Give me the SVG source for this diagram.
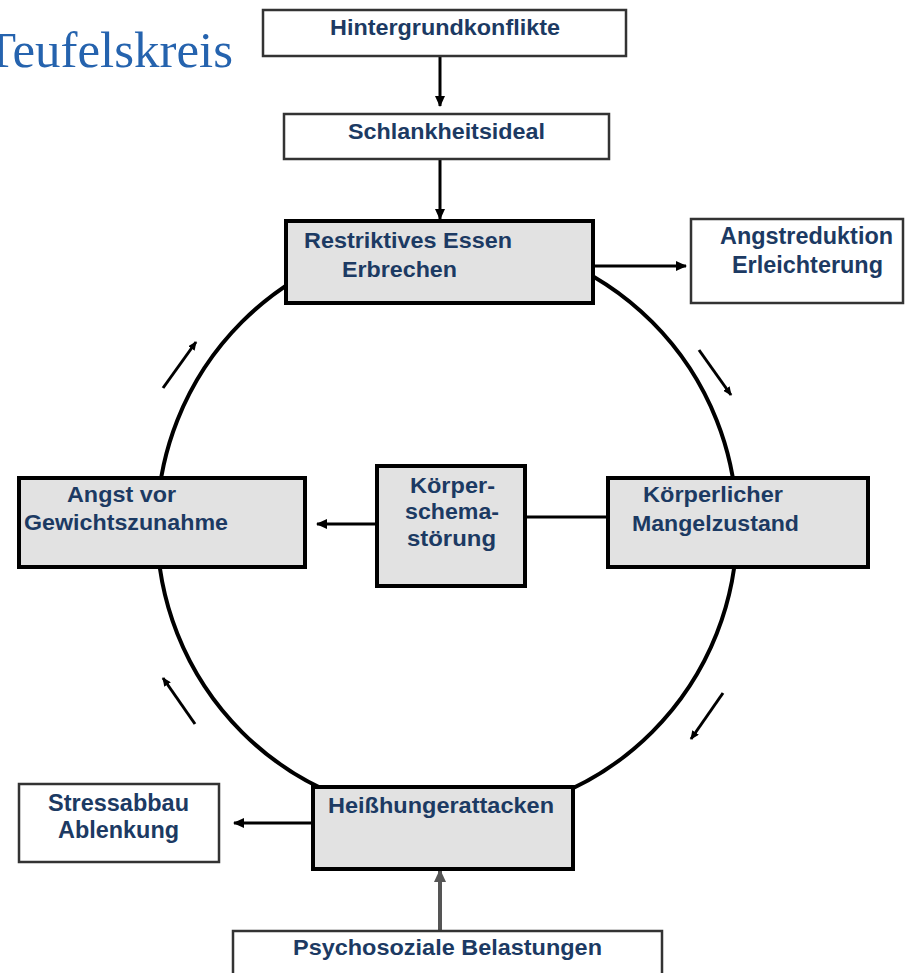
<svg xmlns="http://www.w3.org/2000/svg" width="905" height="973" viewBox="0 0 905 973">
<style>
.t{font-family:"Liberation Sans",Arial,Helvetica,sans-serif;font-weight:bold;font-size:22px;fill:#1c3a63}
.w{fill:#ffffff;stroke:#333333;stroke-width:2.5}
.g{fill:#e2e2e2;stroke:#000000;stroke-width:4}
.c{fill:none;stroke:#000000;stroke-width:3}
.title{font-family:"Liberation Serif","Times New Roman",serif;font-size:50px;fill:#2563ae}
</style>
<defs>
<marker id="ah" markerUnits="userSpaceOnUse" markerWidth="12" markerHeight="10" refX="10" refY="5" orient="auto">
<path d="M0,0 L11,5 L0,10 z" fill="#000"/>
</marker>
<marker id="ahs" markerUnits="userSpaceOnUse" markerWidth="10" markerHeight="8" refX="8" refY="4" orient="auto">
<path d="M0,0 L9,4 L0,8 z" fill="#000"/>
</marker>
<marker id="ahg" markerUnits="userSpaceOnUse" markerWidth="14" markerHeight="12" refX="12" refY="6" orient="auto">
<path d="M0,0 L13,6 L0,12 z" fill="#555"/>
</marker>
</defs>
<text class="title" x="-15" y="67" textLength="248" lengthAdjust="spacingAndGlyphs">Teufelskreis</text>
<g id="connectors">
<circle cx="447" cy="527" r="290" fill="none" stroke="#000" stroke-width="4"/>
<line class="c" x1="440" y1="56" x2="440" y2="106" marker-end="url(#ah)"/>
<line class="c" x1="440" y1="159" x2="440" y2="219" marker-end="url(#ah)"/>
<line class="c" x1="593" y1="266" x2="686" y2="266" marker-end="url(#ah)"/>
<line class="c" x1="377" y1="524" x2="317" y2="524" marker-end="url(#ah)"/>
<line class="c" x1="525" y1="517" x2="608" y2="517"/>
<line class="c" x1="315" y1="823" x2="234" y2="823" marker-end="url(#ah)"/>
<line x1="440" y1="931" x2="440" y2="870" stroke="#555" stroke-width="4" marker-end="url(#ahg)"/>
<line class="c" x1="163" y1="388" x2="196" y2="342" stroke-width="3.5" marker-end="url(#ahs)"/>
<line class="c" x1="699" y1="350" x2="731" y2="395" stroke-width="3.5" marker-end="url(#ahs)"/>
<line class="c" x1="723" y1="693" x2="691" y2="739" stroke-width="3.5" marker-end="url(#ahs)"/>
<line class="c" x1="195" y1="724" x2="163" y2="678" stroke-width="3.5" marker-end="url(#ahs)"/>
</g>
<g id="hintergrund">
<rect class="w" x="263" y="10" width="363" height="46"/>
<text class="t" x="330" y="35" textLength="230" lengthAdjust="spacingAndGlyphs">Hintergrundkonflikte</text>
</g>
<g id="schlank">
<rect class="w" x="284" y="114" width="325" height="45"/>
<text class="t" x="348" y="139" textLength="197" lengthAdjust="spacingAndGlyphs">Schlankheitsideal</text>
</g>
<g id="restriktiv">
<rect class="g" x="286" y="221" width="307" height="82"/>
<text class="t" x="304" y="248" textLength="208" lengthAdjust="spacingAndGlyphs">Restriktives Essen</text>
<text class="t" x="342" y="277" textLength="115" lengthAdjust="spacingAndGlyphs">Erbrechen</text>
</g>
<g id="angstreduktion">
<rect class="w" x="691" y="219" width="212" height="84"/>
<text class="t" x="720" y="244" textLength="173" lengthAdjust="spacingAndGlyphs" style="font-size:23px">Angstreduktion</text>
<text class="t" x="732" y="273" textLength="151" lengthAdjust="spacingAndGlyphs" style="font-size:23px">Erleichterung</text>
</g>
<g id="angst">
<rect class="g" x="19" y="478" width="286" height="89"/>
<text class="t" x="67" y="502" textLength="109" lengthAdjust="spacingAndGlyphs">Angst vor</text>
<text class="t" x="24" y="530" textLength="204" lengthAdjust="spacingAndGlyphs">Gewichtszunahme</text>
</g>
<g id="koerperschema">
<rect class="g" x="377" y="466" width="148" height="120"/>
<text class="t" x="410" y="493" textLength="85" lengthAdjust="spacingAndGlyphs">Körper-</text>
<text class="t" x="405" y="519" textLength="94" lengthAdjust="spacingAndGlyphs">schema-</text>
<text class="t" x="407" y="546" textLength="89" lengthAdjust="spacingAndGlyphs">störung</text>
</g>
<g id="mangel">
<rect class="g" x="608" y="478" width="260" height="89"/>
<text class="t" x="643" y="502" textLength="140" lengthAdjust="spacingAndGlyphs">Körperlicher</text>
<text class="t" x="632" y="531" textLength="167" lengthAdjust="spacingAndGlyphs">Mangelzustand</text>
</g>
<g id="heisshunger">
<rect class="g" x="313" y="787" width="260" height="82"/>
<text class="t" x="328" y="813" textLength="226" lengthAdjust="spacingAndGlyphs">Heißhungerattacken</text>
</g>
<g id="stressabbau">
<rect class="w" x="19" y="784" width="200" height="78"/>
<text class="t" x="48" y="811" textLength="141" lengthAdjust="spacingAndGlyphs" style="font-size:23px">Stressabbau</text>
<text class="t" x="58" y="838" textLength="121" lengthAdjust="spacingAndGlyphs" style="font-size:23px">Ablenkung</text>
</g>
<g id="psychosozial">
<rect class="w" x="233" y="931" width="429" height="46"/>
<text class="t" x="293" y="955" textLength="309" lengthAdjust="spacingAndGlyphs">Psychosoziale Belastungen</text>
</g>
</svg>
